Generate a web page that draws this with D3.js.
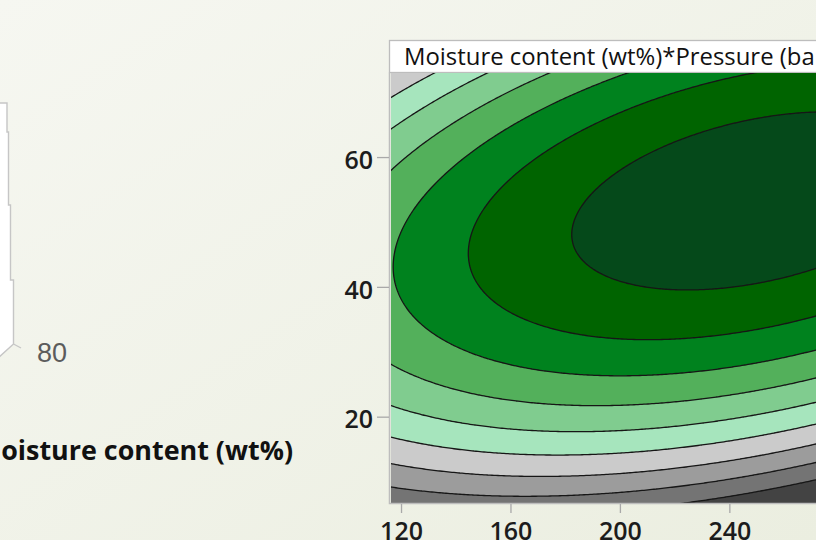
<!DOCTYPE html>
<html><head><meta charset="utf-8">
<script src="https://cdn.jsdelivr.net/npm/d3@7"></script>
<style>html,body{margin:0;padding:0;overflow:hidden;background:#f0f2e7}</style>
</head><body><svg id="c" width="816" height="540"></svg>
<script>
// ---------------- data ----------------
const xTicks = [120, 160, 200, 240, 280];
const yTicks = [20, 40, 60];
const xDomain = [116.7, 285];
const yDomain = [6.7, 72.95];
const contourLevels = [1, 2, 3, 4, 5, 6, 7, 8, 9];
const bandColors = ["#434343", "#747474", "#9c9c9c", "#cbcbcb", "#a6e5bd",
                    "#80cc8f", "#53b05b", "#00821e", "#006400", "#05491a"];
// fitted response surface (canonical form), estimated from the drawn contours
const ridgePeak = [250.1, 9.70];            // x at maximum, maximum response
const ridgeLine = [116.7, 43.04, 0.0765];   // ridge: y = 43.04 + 0.0765 (x - 116.7)
const curvature = [1.527e-4, 4.335e-3];     // along x, across ridge in y
const titleText = "Moisture content (wt%)*Pressure (bar)";
const sideLabel = "Moisture content (wt%)";
const sideTick = "80";

// ---------------- layout ----------------
const W = 816, H = 540;
const plotL = 392, plotT = 73, plotB = 503, pxPerX = 2.736;
const svg = d3.select("#c");
const defs = svg.append("defs");
const grad = defs.append("linearGradient").attr("id", "bg")
  .attr("x1", "0").attr("y1", "0").attr("x2", "1").attr("y2", "1");
grad.append("stop").attr("offset", "0").attr("stop-color", "#f6f7f1");
grad.append("stop").attr("offset", "1").attr("stop-color", "#ebeee0");
svg.append("rect").attr("width", W).attr("height", H).attr("fill", "url(#bg)");

const x = d3.scaleLinear().domain(xDomain)
  .range([plotL, plotL + (xDomain[1] - xDomain[0]) * pxPerX]);
const y = d3.scaleLinear().domain(yDomain).range([plotB, plotT]);

function response(xv, yv) {
  const ry = ridgeLine[1] + ridgeLine[2] * (xv - ridgeLine[0]);
  return ridgePeak[1] - curvature[0] * (xv - ridgePeak[0]) ** 2
         - curvature[1] * (yv - ry) ** 2;
}

// ---------------- left fragment (3-D plot remnant) ----------------
const frag = svg.append("g");
frag.append("path")
  .attr("d", "M-2,103 H7 V132 H8.5 V205 H10.5 V280 H13.5 V344 L-2,358 Z")
  .attr("fill", "#ffffff").attr("stroke", "#c6c6c6").attr("stroke-width", 1.4);
frag.append("path").attr("d", "M13.5,344 L21,348")
  .attr("fill", "none").attr("stroke", "#c6c6c6").attr("stroke-width", 1.4);
frag.append("text").attr("x", 37).attr("y", 362)
  .attr("font-family", "Liberation Sans, Arial, sans-serif")
  .attr("font-size", 27).attr("fill", "#5c5c5c").text(sideTick);

function fitSize(str, family, weight, target) {
  const t = svg.append("text").attr("font-family", family)
    .attr("font-weight", weight).attr("font-size", 20).text(str);
  const w = t.node().getComputedTextLength();
  t.remove();
  return 20 * target / w;
}
const FAM = "'Open Sans', 'Noto Sans', sans-serif";
const sideFs = fitSize("oisture content (wt%)", FAM, 700, 292);
svg.append("text").attr("x", 293).attr("y", 460).attr("text-anchor", "end")
  .attr("font-family", FAM).attr("font-weight", 700).attr("font-size", sideFs)
  .attr("fill", "#111").text(sideLabel);

// ---------------- panel frame + title ----------------
svg.append("rect").attr("x", 389.5).attr("y", 40.5).attr("width", 480).attr("height", 32)
  .attr("fill", "#ffffff").attr("stroke", "#bdbdbd").attr("stroke-width", 1.3);
const titleFs = fitSize("Moisture content (wt%)*Pressure (ba", FAM, 500, 411);
svg.append("text").attr("x", 404).attr("y", 65)
  .attr("font-family", FAM).attr("font-weight", 500).attr("font-size", titleFs)
  .attr("fill", "#111").text(titleText);

// ---------------- contours ----------------
defs.append("clipPath").attr("id", "clip").append("rect")
  .attr("x", plotL - 1).attr("y", plotT).attr("width", 480).attr("height", plotB - plotT);
const step = 2, gx0 = 386, gy0 = 67;
const n = Math.ceil((870 - gx0) / step) + 1, m = Math.ceil((509 - gy0) / step) + 1;
const grid = new Float64Array(n * m);
for (let j = 0; j < m; j++) for (let i = 0; i < n; i++)
  grid[j * n + i] = response(x.invert(gx0 + i * step), y.invert(gy0 + j * step));
const contours = d3.contours().size([n, m]).thresholds(contourLevels)(grid);
const path = d3.geoPath(d3.geoIdentity().scale(step).translate([gx0 - step / 2, gy0 - step / 2]));

const cg = svg.append("g").attr("clip-path", "url(#clip)");
cg.append("rect").attr("x", plotL - 1).attr("y", plotT).attr("width", 480)
  .attr("height", plotB - plotT).attr("fill", bandColors[0]);
cg.selectAll("path.band").data(contours).join("path").attr("class", "band")
  .attr("d", path).attr("fill", (d, i) => bandColors[i + 1]);
cg.selectAll("path.line").data(contours).join("path").attr("class", "line")
  .attr("d", path).attr("fill", "none").attr("stroke", "#161616").attr("stroke-width", 1.3);

// plot border
svg.append("path").attr("d", `M389.5,72.5 V${plotB + 0.5} H870`)
  .attr("fill", "none").attr("stroke", "#bdbdbd").attr("stroke-width", 1.5);

// ---------------- axes ----------------
const AX_FS = 25;
const yAxis = svg.append("g").attr("transform", "translate(389,0)")
  .call(d3.axisLeft(y).tickValues(yTicks).tickSize(12).tickPadding(4));
const xAxis = svg.append("g").attr("transform", `translate(0,${plotB + 1})`)
  .call(d3.axisBottom(x).tickValues(xTicks).tickSize(9).tickPadding(9));
[yAxis, xAxis].forEach(a => {
  a.select(".domain").remove();
  a.selectAll(".tick line").attr("stroke", "#a9a9a9").attr("stroke-width", 1.3);
  a.selectAll(".tick text").attr("font-family", FAM).attr("font-size", AX_FS)
    .attr("font-weight", 600).attr("fill", "#1c1c1c");
});
yAxis.selectAll(".tick text").attr("dy", "0.45em");
</script></body></html>
